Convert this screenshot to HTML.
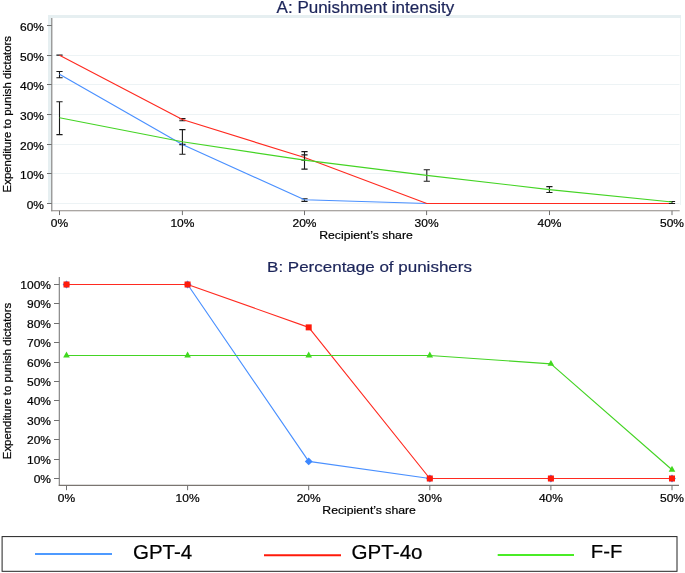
<!DOCTYPE html>
<html><head><meta charset="utf-8"><style>
html,body{margin:0;padding:0;background:#fff;}
body{width:685px;height:573px;overflow:hidden;}
svg{display:block;will-change:transform;font-family:"Liberation Sans", sans-serif;}
</style></head><body>
<svg width="685" height="573" viewBox="0 0 685 573">
<rect width="685" height="573" fill="#fff"/>
<g fill="#000000">
<rect x="48" y="15" width="3.2" height="188.6" fill="#e6eff1"/>
<rect x="48" y="15" width="633" height="3" fill="#e6eff1"/>
<rect x="680" y="15" width="1" height="190" fill="#e6eff1" opacity="0.75"/>
<line x1="52.5" y1="203.50" x2="679.5" y2="203.50" stroke="#edf3f5" stroke-width="1"/>
<line x1="52.5" y1="173.50" x2="679.5" y2="173.50" stroke="#edf3f5" stroke-width="1"/>
<line x1="52.5" y1="144.50" x2="679.5" y2="144.50" stroke="#edf3f5" stroke-width="1"/>
<line x1="52.5" y1="114.50" x2="679.5" y2="114.50" stroke="#edf3f5" stroke-width="1"/>
<line x1="52.5" y1="84.50" x2="679.5" y2="84.50" stroke="#edf3f5" stroke-width="1"/>
<line x1="52.5" y1="55.50" x2="679.5" y2="55.50" stroke="#edf3f5" stroke-width="1"/>
<line x1="51.8" y1="18" x2="51.8" y2="211.3" stroke="#7c7c7c" stroke-width="1.1"/>
<line x1="51.3" y1="210.8" x2="679.7" y2="210.8" stroke="#8e8985" stroke-width="1.1"/>
<line x1="47" y1="203.50" x2="51.8" y2="203.50" stroke="#707070" stroke-width="1"/>
<text transform="translate(44.00,208.50) scale(1,0.97)" text-anchor="end" font-size="12" stroke="#000000" stroke-width="0.22">0%</text>
<line x1="47" y1="173.50" x2="51.8" y2="173.50" stroke="#707070" stroke-width="1"/>
<text transform="translate(44.00,178.50) scale(1,0.97)" text-anchor="end" font-size="12" stroke="#000000" stroke-width="0.22">10%</text>
<line x1="47" y1="144.50" x2="51.8" y2="144.50" stroke="#707070" stroke-width="1"/>
<text transform="translate(44.00,149.50) scale(1,0.97)" text-anchor="end" font-size="12" stroke="#000000" stroke-width="0.22">20%</text>
<line x1="47" y1="114.50" x2="51.8" y2="114.50" stroke="#707070" stroke-width="1"/>
<text transform="translate(44.00,119.50) scale(1,0.97)" text-anchor="end" font-size="12" stroke="#000000" stroke-width="0.22">30%</text>
<line x1="47" y1="84.50" x2="51.8" y2="84.50" stroke="#707070" stroke-width="1"/>
<text transform="translate(44.00,89.50) scale(1,0.97)" text-anchor="end" font-size="12" stroke="#000000" stroke-width="0.22">40%</text>
<line x1="47" y1="55.50" x2="51.8" y2="55.50" stroke="#707070" stroke-width="1"/>
<text transform="translate(44.00,60.50) scale(1,0.97)" text-anchor="end" font-size="12" stroke="#000000" stroke-width="0.22">50%</text>
<line x1="47" y1="25.50" x2="51.8" y2="25.50" stroke="#707070" stroke-width="1"/>
<text transform="translate(44.00,30.50) scale(1,0.97)" text-anchor="end" font-size="12" stroke="#000000" stroke-width="0.22">60%</text>
<line x1="59.50" y1="210.8" x2="59.50" y2="215.1" stroke="#707070" stroke-width="1"/>
<text transform="translate(59.50,226.80) scale(1,0.944)" text-anchor="middle" font-size="12" stroke="#000000" stroke-width="0.22">0%</text>
<line x1="182.40" y1="210.8" x2="182.40" y2="215.1" stroke="#707070" stroke-width="1"/>
<text transform="translate(182.40,226.80) scale(1,0.944)" text-anchor="middle" font-size="12" stroke="#000000" stroke-width="0.22">10%</text>
<line x1="304.50" y1="210.8" x2="304.50" y2="215.1" stroke="#707070" stroke-width="1"/>
<text transform="translate(304.50,226.80) scale(1,0.944)" text-anchor="middle" font-size="12" stroke="#000000" stroke-width="0.22">20%</text>
<line x1="426.60" y1="210.8" x2="426.60" y2="215.1" stroke="#707070" stroke-width="1"/>
<text transform="translate(426.60,226.80) scale(1,0.944)" text-anchor="middle" font-size="12" stroke="#000000" stroke-width="0.22">30%</text>
<line x1="549.50" y1="210.8" x2="549.50" y2="215.1" stroke="#707070" stroke-width="1"/>
<text transform="translate(549.50,226.80) scale(1,0.944)" text-anchor="middle" font-size="12" stroke="#000000" stroke-width="0.22">40%</text>
<line x1="672.00" y1="210.8" x2="672.00" y2="215.1" stroke="#707070" stroke-width="1"/>
<text transform="translate(672.00,226.80) scale(1,0.944)" text-anchor="middle" font-size="12" stroke="#000000" stroke-width="0.22">50%</text>
<text transform="translate(366.00,238.85) scale(1,0.86)" text-anchor="middle" font-size="12.25" stroke="#000000" stroke-width="0.22">Recipient’s share</text>
<text transform="translate(10.8,114.2) rotate(-90)" text-anchor="middle" font-size="11.4" stroke="#000000" stroke-width="0.22">Expenditure to punish dictators</text>
<text transform="translate(365.40,13.05) scale(1,0.92)" text-anchor="middle" font-size="17" fill="#1c255a" stroke="#1c255a" stroke-width="0.22">A: Punishment intensity</text>
<path d="M56.40,71.48H62.60M56.40,77.71H62.60M59.50,71.48V77.71" stroke="#1a1a1a" stroke-width="1.1" fill="none"/>
<path d="M179.30,144.31H185.50M179.30,144.61H185.50M182.40,144.31V144.61" stroke="#1a1a1a" stroke-width="1.1" fill="none"/>
<path d="M301.40,198.75H307.60M301.40,201.42H307.60M304.50,198.75V201.42" stroke="#1a1a1a" stroke-width="1.1" fill="none"/>
<polyline points="59.50,74.15 182.40,144.46 304.50,199.79 426.80,203.50 549.40,203.50 672.00,203.50" fill="none" stroke="#4a90ff" stroke-width="1.15" stroke-linejoin="round"/>
<path d="M56.40,55.02H62.60M56.40,55.31H62.60M59.50,55.02V55.31" stroke="#1a1a1a" stroke-width="1.1" fill="none"/>
<path d="M179.30,118.65H185.50M179.30,120.73H185.50M182.40,118.65V120.73" stroke="#1a1a1a" stroke-width="1.1" fill="none"/>
<path d="M301.40,154.85H307.60M301.40,160.19H307.60M304.50,154.85V160.19" stroke="#1a1a1a" stroke-width="1.1" fill="none"/>
<polyline points="59.50,55.16 182.40,119.54 304.50,157.52 426.80,203.50 549.40,203.50 672.00,203.50" fill="none" stroke="#ff2a20" stroke-width="1.15" stroke-linejoin="round"/>
<path d="M56.40,101.74H62.60M56.40,134.67H62.60M59.50,101.74V134.67" stroke="#1a1a1a" stroke-width="1.1" fill="none"/>
<path d="M179.30,129.63H185.50M179.30,154.25H185.50M182.40,129.63V154.25" stroke="#1a1a1a" stroke-width="1.1" fill="none"/>
<path d="M301.40,151.58H307.60M301.40,169.09H307.60M304.50,151.58V169.09" stroke="#1a1a1a" stroke-width="1.1" fill="none"/>
<path d="M423.70,169.68H429.90M423.70,181.25H429.90M426.80,169.68V181.25" stroke="#1a1a1a" stroke-width="1.1" fill="none"/>
<path d="M546.30,186.59H552.50M546.30,192.52H552.50M549.40,186.59V192.52" stroke="#1a1a1a" stroke-width="1.1" fill="none"/>
<path d="M668.90,201.57H675.10M668.90,203.50H675.10M672.00,201.57V203.50" stroke="#1a1a1a" stroke-width="1.1" fill="none"/>
<polyline points="59.50,117.76 182.40,141.79 304.50,160.19 426.80,175.32 549.40,189.56 672.00,202.02" fill="none" stroke="#44d424" stroke-width="1.15" stroke-linejoin="round"/>
<line x1="59.3" y1="277" x2="59.3" y2="485.9" stroke="#7c7c7c" stroke-width="1.1"/>
<line x1="58.8" y1="485.4" x2="679" y2="485.4" stroke="#7a7570" stroke-width="1.1"/>
<line x1="54" y1="478.50" x2="59.3" y2="478.50" stroke="#707070" stroke-width="1"/>
<text transform="translate(51.00,483.30) scale(1,0.865)" text-anchor="end" font-size="12" stroke="#000000" stroke-width="0.22">0%</text>
<line x1="54" y1="459.50" x2="59.3" y2="459.50" stroke="#707070" stroke-width="1"/>
<text transform="translate(51.00,464.30) scale(1,0.865)" text-anchor="end" font-size="12" stroke="#000000" stroke-width="0.22">10%</text>
<line x1="54" y1="439.50" x2="59.3" y2="439.50" stroke="#707070" stroke-width="1"/>
<text transform="translate(51.00,444.30) scale(1,0.865)" text-anchor="end" font-size="12" stroke="#000000" stroke-width="0.22">20%</text>
<line x1="54" y1="420.50" x2="59.3" y2="420.50" stroke="#707070" stroke-width="1"/>
<text transform="translate(51.00,425.30) scale(1,0.865)" text-anchor="end" font-size="12" stroke="#000000" stroke-width="0.22">30%</text>
<line x1="54" y1="400.50" x2="59.3" y2="400.50" stroke="#707070" stroke-width="1"/>
<text transform="translate(51.00,405.30) scale(1,0.865)" text-anchor="end" font-size="12" stroke="#000000" stroke-width="0.22">40%</text>
<line x1="54" y1="381.50" x2="59.3" y2="381.50" stroke="#707070" stroke-width="1"/>
<text transform="translate(51.00,386.30) scale(1,0.865)" text-anchor="end" font-size="12" stroke="#000000" stroke-width="0.22">50%</text>
<line x1="54" y1="362.50" x2="59.3" y2="362.50" stroke="#707070" stroke-width="1"/>
<text transform="translate(51.00,367.30) scale(1,0.865)" text-anchor="end" font-size="12" stroke="#000000" stroke-width="0.22">60%</text>
<line x1="54" y1="342.50" x2="59.3" y2="342.50" stroke="#707070" stroke-width="1"/>
<text transform="translate(51.00,347.30) scale(1,0.865)" text-anchor="end" font-size="12" stroke="#000000" stroke-width="0.22">70%</text>
<line x1="54" y1="323.50" x2="59.3" y2="323.50" stroke="#707070" stroke-width="1"/>
<text transform="translate(51.00,328.30) scale(1,0.865)" text-anchor="end" font-size="12" stroke="#000000" stroke-width="0.22">80%</text>
<line x1="54" y1="303.50" x2="59.3" y2="303.50" stroke="#707070" stroke-width="1"/>
<text transform="translate(51.00,308.30) scale(1,0.865)" text-anchor="end" font-size="12" stroke="#000000" stroke-width="0.22">90%</text>
<line x1="54" y1="284.50" x2="59.3" y2="284.50" stroke="#707070" stroke-width="1"/>
<text transform="translate(51.00,289.30) scale(1,0.865)" text-anchor="end" font-size="12" stroke="#000000" stroke-width="0.22">100%</text>
<line x1="66.50" y1="485.4" x2="66.50" y2="490.2" stroke="#707070" stroke-width="1"/>
<text transform="translate(66.50,501.60) scale(1,0.91)" text-anchor="middle" font-size="12" stroke="#000000" stroke-width="0.22">0%</text>
<line x1="187.60" y1="485.4" x2="187.60" y2="490.2" stroke="#707070" stroke-width="1"/>
<text transform="translate(187.60,501.60) scale(1,0.91)" text-anchor="middle" font-size="12" stroke="#000000" stroke-width="0.22">10%</text>
<line x1="308.70" y1="485.4" x2="308.70" y2="490.2" stroke="#707070" stroke-width="1"/>
<text transform="translate(308.70,501.60) scale(1,0.91)" text-anchor="middle" font-size="12" stroke="#000000" stroke-width="0.22">20%</text>
<line x1="429.80" y1="485.4" x2="429.80" y2="490.2" stroke="#707070" stroke-width="1"/>
<text transform="translate(429.80,501.60) scale(1,0.91)" text-anchor="middle" font-size="12" stroke="#000000" stroke-width="0.22">30%</text>
<line x1="550.90" y1="485.4" x2="550.90" y2="490.2" stroke="#707070" stroke-width="1"/>
<text transform="translate(550.90,501.60) scale(1,0.91)" text-anchor="middle" font-size="12" stroke="#000000" stroke-width="0.22">40%</text>
<line x1="672.00" y1="485.4" x2="672.00" y2="490.2" stroke="#707070" stroke-width="1"/>
<text transform="translate(672.00,501.60) scale(1,0.91)" text-anchor="middle" font-size="12" stroke="#000000" stroke-width="0.22">50%</text>
<text transform="translate(369.10,514.10) scale(1,0.86)" text-anchor="middle" font-size="12.25" stroke="#000000" stroke-width="0.22">Recipient’s share</text>
<text transform="translate(10.8,381) rotate(-90)" text-anchor="middle" font-size="11.4" stroke="#000000" stroke-width="0.22">Expenditure to punish dictators</text>
<text transform="translate(369.50,271.70) scale(1,0.9)" text-anchor="middle" font-size="17" fill="#1c255a" stroke="#1c255a" stroke-width="0.22">B: Percentage of punishers</text>
<polyline points="66.50,284.50 187.60,284.50 308.70,461.43 429.80,478.50 550.90,478.50 672.00,478.50" fill="none" stroke="#4a90ff" stroke-width="1.15" stroke-linejoin="round"/>
<path d="M66.50,280.60L70.40,284.50L66.50,288.40L62.60,284.50Z" fill="#3d88ff"/>
<path d="M187.60,280.60L191.50,284.50L187.60,288.40L183.70,284.50Z" fill="#3d88ff"/>
<path d="M308.70,457.53L312.60,461.43L308.70,465.33L304.80,461.43Z" fill="#3d88ff"/>
<path d="M429.80,474.60L433.70,478.50L429.80,482.40L425.90,478.50Z" fill="#3d88ff"/>
<path d="M550.90,474.60L554.80,478.50L550.90,482.40L547.00,478.50Z" fill="#3d88ff"/>
<path d="M672.00,474.60L675.90,478.50L672.00,482.40L668.10,478.50Z" fill="#3d88ff"/>
<polyline points="66.50,284.50 187.60,284.50 308.70,327.37 429.80,478.50 550.90,478.50 672.00,478.50" fill="none" stroke="#ff2a20" stroke-width="1.15" stroke-linejoin="round"/>
<rect x="63.50" y="281.50" width="6.00" height="6.00" fill="#ff1a0a"/>
<rect x="184.60" y="281.50" width="6.00" height="6.00" fill="#ff1a0a"/>
<rect x="305.70" y="324.37" width="6.00" height="6.00" fill="#ff1a0a"/>
<rect x="426.80" y="475.50" width="6.00" height="6.00" fill="#ff1a0a"/>
<rect x="547.90" y="475.50" width="6.00" height="6.00" fill="#ff1a0a"/>
<rect x="669.00" y="475.50" width="6.00" height="6.00" fill="#ff1a0a"/>
<polyline points="66.50,355.50 187.60,355.50 308.70,355.50 429.80,355.50 550.90,363.85 672.00,469.77" fill="none" stroke="#44d424" stroke-width="1.15" stroke-linejoin="round"/>
<path d="M66.50,351.57L69.80,357.47L63.20,357.47Z" fill="#40d81e"/>
<path d="M187.60,351.57L190.90,357.47L184.30,357.47Z" fill="#40d81e"/>
<path d="M308.70,351.57L312.00,357.47L305.40,357.47Z" fill="#40d81e"/>
<path d="M429.80,351.57L433.10,357.47L426.50,357.47Z" fill="#40d81e"/>
<path d="M550.90,359.91L554.20,365.81L547.60,365.81Z" fill="#40d81e"/>
<path d="M672.00,465.84L675.30,471.74L668.70,471.74Z" fill="#40d81e"/>
<rect x="2.1" y="536.6" width="674.9" height="34.7" fill="none" stroke="#222" stroke-width="1"/>
<line x1="35" y1="554.0" x2="112" y2="554.0" stroke="#4e9aff" stroke-width="2"/>
<line x1="264" y1="555.3" x2="341" y2="555.3" stroke="#ff1a0a" stroke-width="2"/>
<line x1="497.7" y1="555.0" x2="574" y2="555.0" stroke="#4aec26" stroke-width="2"/>
<text transform="translate(133.00,559.40) scale(1,0.95)" font-size="20.5" stroke="#000000" stroke-width="0.22">GPT-4</text>
<text transform="translate(351.60,559.00) scale(1,0.95)" font-size="20.6" stroke="#000000" stroke-width="0.22">GPT-4o</text>
<text transform="translate(590.80,558.10) scale(1,0.95)" font-size="20.3" stroke="#000000" stroke-width="0.22">F-F</text>
</g></svg></body></html>
